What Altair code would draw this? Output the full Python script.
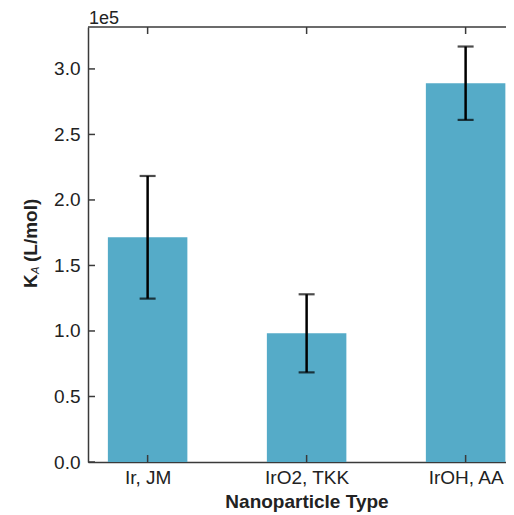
import altair as alt
import pandas as pd

categories = ["Ir, JM", "IrO2, TKK", "IrOH, AA"]
positions = [0, 1, 2]
ka_values = [171500, 98200, 289100]
ka_errors = [46800, 29800, 28000]
y_ticks = [0.0, 0.5, 1.0, 1.5, 2.0, 2.5, 3.0]

SCALE = 1e5
W, H = 418, 435
BAR_COLOR = "#55abc8"
AXIS_COLOR = "#3a3a3a"
TEXT_COLOR = "#222222"
FONT = "Liberation Sans"

df = pd.DataFrame({
    "pos": positions,
    "cat": categories,
    "val": [v / SCALE for v in ka_values],
    "lo": [(v - e) / SCALE for v, e in zip(ka_values, ka_errors)],
    "hi": [(v + e) / SCALE for v, e in zip(ka_values, ka_errors)],
})
df["left"] = df["pos"] - 0.25
df["right"] = df["pos"] + 0.25
ticks_df = pd.DataFrame({"t": y_ticks})

xscale = alt.Scale(domain=[-0.375, 2.254], nice=False, zero=False)
yscale = alt.Scale(domain=[0, 3.32], nice=False)

label_expr = "datum.value == 0 ? '%s' : datum.value == 1 ? '%s' : '%s'" % tuple(categories)

base = alt.Chart(df)

bars = base.mark_rect(color=BAR_COLOR).encode(
    x=alt.X("left:Q", scale=xscale,
            axis=alt.Axis(values=positions, labelExpr=label_expr, title=None,
                          ticks=False, grid=False, domainColor=AXIS_COLOR,
                          domainWidth=1.5, labelFontSize=19, labelFont=FONT,
                          labelColor=TEXT_COLOR, labelPadding=6)),
    x2="right:Q",
    y=alt.Y("val:Q", scale=yscale,
            axis=alt.Axis(values=y_ticks, format=".1f", title=None, ticks=False,
                          grid=False, domainColor=AXIS_COLOR, domainWidth=1.5,
                          labelFontSize=19, labelFont=FONT, labelColor=TEXT_COLOR,
                          labelPadding=8)),
    y2=alt.datum(0),
)

err = base.mark_rule(color="black", strokeWidth=2.5).encode(
    x=alt.X("pos:Q", scale=xscale), y=alt.Y("lo:Q", scale=yscale), y2="hi:Q"
)
cap_lo = base.mark_tick(color="black", orient="horizontal", size=16, thickness=2.2).encode(
    x=alt.X("pos:Q", scale=xscale), y=alt.Y("lo:Q", scale=yscale)
)
cap_hi = base.mark_tick(color="black", orient="horizontal", size=16, thickness=2.2).encode(
    x=alt.X("pos:Q", scale=xscale), y=alt.Y("hi:Q", scale=yscale)
)

yt = alt.Chart(ticks_df).mark_rule(color=AXIS_COLOR, strokeWidth=1.5).encode(
    y=alt.Y("t:Q", scale=yscale), x=alt.value(0), x2=alt.value(7)
)
xt_bottom = base.mark_rule(color=AXIS_COLOR, strokeWidth=1.5).encode(
    x=alt.X("pos:Q", scale=xscale), y=alt.value(H), y2=alt.value(H - 7)
)
xt_top = base.mark_rule(color=AXIS_COLOR, strokeWidth=1.5).encode(
    x=alt.X("pos:Q", scale=xscale), y=alt.value(0), y2=alt.value(7)
)
one = pd.DataFrame({"a": [0]})
top_spine = alt.Chart(one).mark_rule(color=AXIS_COLOR, strokeWidth=1.5).encode(
    x=alt.value(0), x2=alt.value(W + 10), y=alt.value(0)
)

exp_text = alt.Chart(one).mark_text(text="1e5", fontSize=18, font=FONT, color=TEXT_COLOR,
                                    align="left", baseline="alphabetic").encode(
    x=alt.value(1), y=alt.value(-3)
)
xtitle = alt.Chart(one).mark_text(text="Nanoparticle Type", fontSize=19, font=FONT,
                                  fontWeight="bold", color=TEXT_COLOR, align="center",
                                  baseline="alphabetic").encode(
    x=alt.value(219), y=alt.value(H + 46)
)
yk = alt.Chart(one).mark_text(text="K", fontSize=19, font=FONT, fontWeight="bold",
                              color=TEXT_COLOR, align="left", baseline="alphabetic",
                              angle=270).encode(
    x=alt.value(-51), y=alt.value(288 - 27)
)
ya = alt.Chart(one).mark_text(text="A", fontSize=11, font=FONT, fontStyle="italic",
                              color=TEXT_COLOR, align="left", baseline="alphabetic",
                              angle=270).encode(
    x=alt.value(-49), y=alt.value(274 - 27)
)
yrest = alt.Chart(one).mark_text(text="(L/mol)", fontSize=19, font=FONT, fontWeight="bold",
                                 color=TEXT_COLOR, align="left", baseline="alphabetic",
                                 angle=270).encode(
    x=alt.value(-51), y=alt.value(262 - 27)
)

chart = alt.layer(
    bars, err, cap_lo, cap_hi, yt, xt_bottom, xt_top, top_spine,
    exp_text, xtitle, yk, ya, yrest
).properties(
    width=W, height=H,
    autosize=alt.AutoSizeParams(type="none"),
    padding={"left": 80, "top": 19, "right": 0, "bottom": 52},
).configure_view(stroke=None)

chart.save("out.html", embed_options={"renderer": "svg", "actions": False})
